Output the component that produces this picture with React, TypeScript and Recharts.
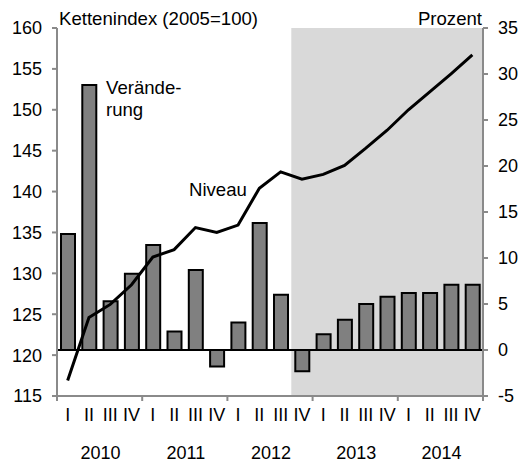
import { ComposedChart, Bar, Line, XAxis, YAxis, ReferenceArea, ReferenceLine } from 'recharts';

const periods = [
  '2010 I', '2010 II', '2010 III', '2010 IV',
  '2011 I', '2011 II', '2011 III', '2011 IV',
  '2012 I', '2012 II', '2012 III', '2012 IV',
  '2013 I', '2013 II', '2013 III', '2013 IV',
  '2014 I', '2014 II', '2014 III', '2014 IV',
];
const quarterLabels = ['I', 'II', 'III', 'IV', 'I', 'II', 'III', 'IV', 'I', 'II', 'III', 'IV', 'I', 'II', 'III', 'IV', 'I', 'II', 'III', 'IV'];
const years = ['2010', '2011', '2012', '2013', '2014'];

// Niveau, Kettenindex (2005=100), linke Achse
const niveau = [116.9, 124.6, 126.2, 128.6, 132.0, 132.9, 135.6, 135.0, 135.9, 140.4, 142.4, 141.5, 142.1, 143.2, 145.3, 147.5, 150.0, 152.2, 154.4, 156.7];
// Veränderung in Prozent, rechte Achse
const veraenderung = [12.6, 28.8, 5.3, 8.3, 11.4, 2.0, 8.7, -1.8, 3.0, 13.8, 6.0, -2.3, 1.7, 3.3, 5.0, 5.8, 6.2, 6.2, 7.1, 7.1];

const leftTicks = [115, 120, 125, 130, 135, 140, 145, 150, 155, 160];
const rightTicks = [-5, 0, 5, 10, 15, 20, 25, 30, 35];
const forecastStart = '2012 IV';

const data = periods.map((p, i) => ({ period: p, niveau: niveau[i], veraenderung: veraenderung[i] }));

const W = 521;
const H = 465;
const LEFT_W = 57;
const RIGHT_W = 38;
const TOP = 28;
const XAXIS_H = 69;
const BAND = (W - LEFT_W - RIGHT_W) / periods.length;
const FONT = '"Liberation Sans", Arial, sans-serif';
const AXIS_GRAY = '#8a8a8a';
const TICK_FS = 18;
const LABEL_FS = 18.6;

function QuarterTick(props: any) {
  const { x, y, payload } = props;
  const i = periods.indexOf(payload.value);
  return (
    <g>
      <text x={x} y={y + 25} textAnchor="middle" fontSize={TICK_FS} fontFamily={FONT} fill="#000">
        {quarterLabels[i]}
      </text>
      {i % 4 === 1 && (
        <text x={x + BAND / 2 + 1} y={y + 63} textAnchor="middle" fontSize={TICK_FS} fontFamily={FONT} fill="#000">
          {years[Math.floor(i / 4)]}
        </text>
      )}
      {i % 4 === 0 && <line x1={x - BAND / 2} x2={x - BAND / 2} y1={y} y2={y + 5} stroke={AXIS_GRAY} strokeWidth={2} />}
      {i === periods.length - 1 && <line x1={x + BAND / 2} x2={x + BAND / 2} y1={y} y2={y + 5} stroke={AXIS_GRAY} strokeWidth={2} />}
    </g>
  );
}

export default function App() {
  const tickStyle = { fontSize: TICK_FS, fontFamily: FONT, fill: '#000' };
  return (
    <div style={{ position: 'absolute', left: 0, top: 0, width: W, height: H, background: '#fff' }}>
      <ComposedChart width={W} height={H} data={data} margin={{ top: TOP, right: 0, bottom: 0, left: 0 }}>
        <ReferenceArea
          x1={forecastStart}
          x2={periods[periods.length - 1]}
          yAxisId="left"
          fill="#d9d9d9"
          fillOpacity={1}
          stroke="none"
        />
        <XAxis
          dataKey="period"
          height={XAXIS_H}
          interval={0}
          tickLine={false}
          tickSize={0}
          tickMargin={0}
          axisLine={{ stroke: AXIS_GRAY, strokeWidth: 2 }}
          tick={<QuarterTick />}
        />
        <YAxis
          yAxisId="left"
          width={LEFT_W}
          domain={[115, 160]}
          ticks={leftTicks}
          interval={0}
          tick={tickStyle}
          tickSize={5}
          tickMargin={10}
          tickLine={{ stroke: AXIS_GRAY, strokeWidth: 2 }}
          axisLine={{ stroke: AXIS_GRAY, strokeWidth: 2 }}
        />
        <YAxis
          yAxisId="right"
          orientation="right"
          width={RIGHT_W}
          domain={[-5, 35]}
          ticks={rightTicks}
          interval={0}
          tick={tickStyle}
          tickSize={5}
          tickMargin={10}
          tickLine={{ stroke: AXIS_GRAY, strokeWidth: 2 }}
          axisLine={{ stroke: AXIS_GRAY, strokeWidth: 2 }}
        />
        <Bar
          yAxisId="right"
          dataKey="veraenderung"
          barSize={14}
          fill="#808080"
          stroke="#000"
          strokeWidth={2}
          isAnimationActive={false}
        />
        <ReferenceLine yAxisId="right" y={0} stroke="#000" strokeWidth={2} />
        <Line
          yAxisId="left"
          type="linear"
          dataKey="niveau"
          stroke="#000"
          strokeWidth={3}
          dot={false}
          isAnimationActive={false}
        />
      </ComposedChart>
      <svg
        width={W}
        height={H}
        style={{ position: 'absolute', left: 0, top: 0, pointerEvents: 'none' }}
        fontFamily={FONT}
        fontSize={LABEL_FS}
      >
        <text x={59} y={25} fill="#000">Kettenindex (2005=100)</text>
        <text x={482} y={25} textAnchor="end" fill="#000">Prozent</text>
        <text x={106} y={94} fill="#000">Verände-</text>
        <text x={106} y={116} fill="#000">rung</text>
        <text x={189} y={196} fill="#000">Niveau</text>
      </svg>
    </div>
  );
}
